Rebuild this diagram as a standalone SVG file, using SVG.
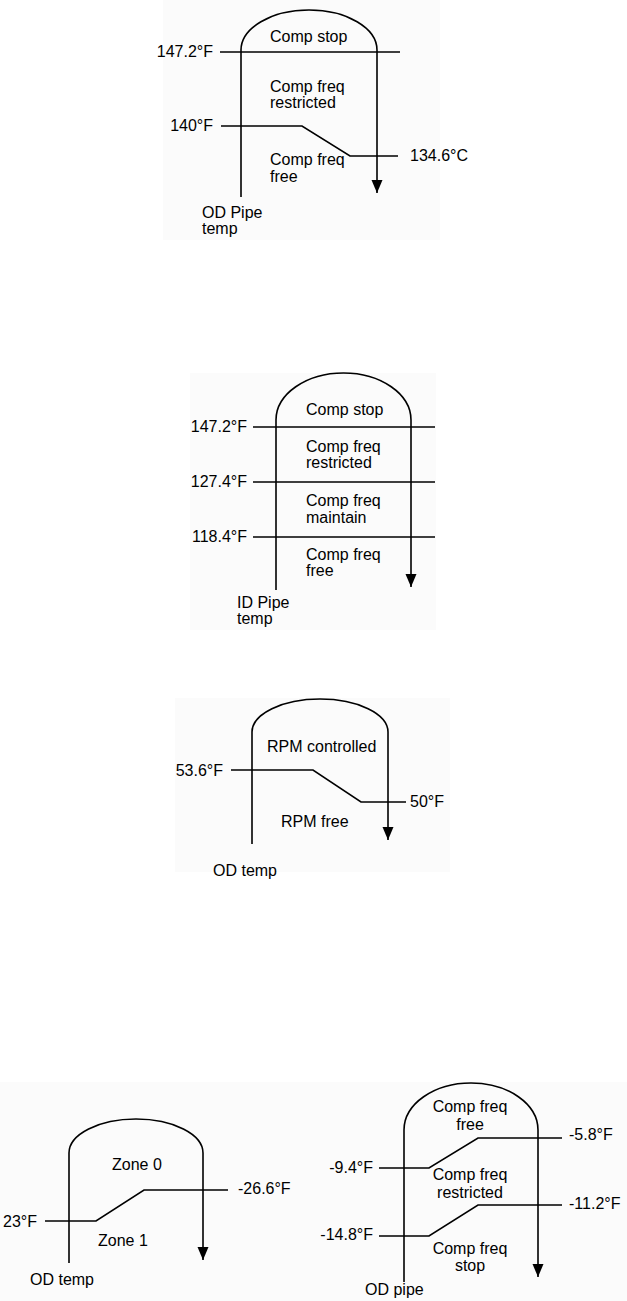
<svg xmlns="http://www.w3.org/2000/svg" width="627" height="1301" viewBox="0 0 627 1301">
<defs>
<style>
.bg{fill:#fbfbfb}
.ln{fill:none;stroke:#000;stroke-width:1.6}
.ar{fill:none;stroke:#000;stroke-width:1.6;marker-end:url(#ah)}
text{font-family:"Liberation Sans",Arial,sans-serif;font-size:16px;fill:#000}
.e{text-anchor:end}
.m{text-anchor:middle}
</style>
<marker id="ah" markerUnits="userSpaceOnUse" markerWidth="14" markerHeight="14" refX="13" refY="7" orient="auto" viewBox="0 0 14 14">
<path d="M0,1.5 L13,7 L0,12.5 z" fill="#000"/>
</marker>
</defs>
<rect width="627" height="1301" fill="#fff"/>
<rect class="bg" x="163" y="0" width="277" height="240"/>
<rect class="bg" x="190" y="373" width="246" height="257"/>
<rect class="bg" x="175" y="698" width="275" height="174"/>
<rect class="bg" x="0" y="1082" width="627" height="219"/>

<g id="connectors">
<path class="ar" d="M241,197 V50 A68,40 0 0 1 377,50 V193"/>
<path class="ln" d="M220,52 H400"/>
<path class="ln" d="M221,126 H302 L350,156 H398"/>

<path class="ar" d="M276,590 V420 A67.5,47 0 0 1 411,420 V587"/>
<path class="ln" d="M253,427 H435"/>
<path class="ln" d="M253,482 H435"/>
<path class="ln" d="M253,537 H435"/>

<path class="ar" d="M252,844 V732 A68,33 0 0 1 388,732 V840"/>
<path class="ln" d="M231,770 H313 L361,802 H406"/>

<path class="ar" d="M69,1263 V1153 A67,34 0 0 1 203,1153 V1260"/>
<path class="ln" d="M45,1221 H96 L144,1190 H228"/>

<path class="ar" d="M404,1282 V1130 A67,47 0 0 1 538,1130 V1277"/>
<path class="ln" d="M379,1168 H429 L478,1138 H562"/>
<path class="ln" d="M379,1236 H429 L478,1205 H562"/>
</g>

<g id="diagram1">
<text class="e" x="213" y="57">147.2°F</text>
<text class="e" x="213" y="131">140°F</text>
<text x="410" y="161">134.6°C</text>
<text x="270" y="42">Comp stop</text>
<text x="270" y="92">Comp freq</text>
<text x="270" y="108">restricted</text>
<text x="270" y="165">Comp freq</text>
<text x="270" y="182">free</text>
<text x="202" y="218">OD Pipe</text>
<text x="202" y="234">temp</text>
</g>

<g id="diagram2">
<text class="e" x="247" y="432">147.2°F</text>
<text class="e" x="247" y="487">127.4°F</text>
<text class="e" x="247" y="542">118.4°F</text>
<text x="306" y="415">Comp stop</text>
<text x="306" y="452">Comp freq</text>
<text x="306" y="468">restricted</text>
<text x="306" y="506">Comp freq</text>
<text x="306" y="523">maintain</text>
<text x="306" y="560">Comp freq</text>
<text x="306" y="576">free</text>
<text x="237" y="608">ID Pipe</text>
<text x="237" y="624">temp</text>
</g>

<g id="diagram3">
<text class="e" x="223" y="776">53.6°F</text>
<text x="410" y="807">50°F</text>
<text x="267" y="752">RPM controlled</text>
<text x="281" y="827">RPM free</text>
<text x="213" y="876">OD temp</text>
</g>

<g id="diagram4">
<text class="e" x="37" y="1227">23°F</text>
<text x="238" y="1194">-26.6°F</text>
<text x="112" y="1170">Zone 0</text>
<text x="98" y="1246">Zone 1</text>
<text x="30" y="1285">OD temp</text>
</g>

<g id="diagram5">
<text class="m" x="470" y="1112">Comp freq</text>
<text class="m" x="470" y="1130">free</text>
<text x="569" y="1140">-5.8°F</text>
<text class="e" x="373" y="1173">-9.4°F</text>
<text class="m" x="470" y="1180">Comp freq</text>
<text class="m" x="470" y="1198">restricted</text>
<text x="569" y="1209">-11.2°F</text>
<text class="e" x="373" y="1240">-14.8°F</text>
<text class="m" x="470" y="1254">Comp freq</text>
<text class="m" x="470" y="1271">stop</text>
<text x="365" y="1295">OD pipe</text>
</g>
</svg>
